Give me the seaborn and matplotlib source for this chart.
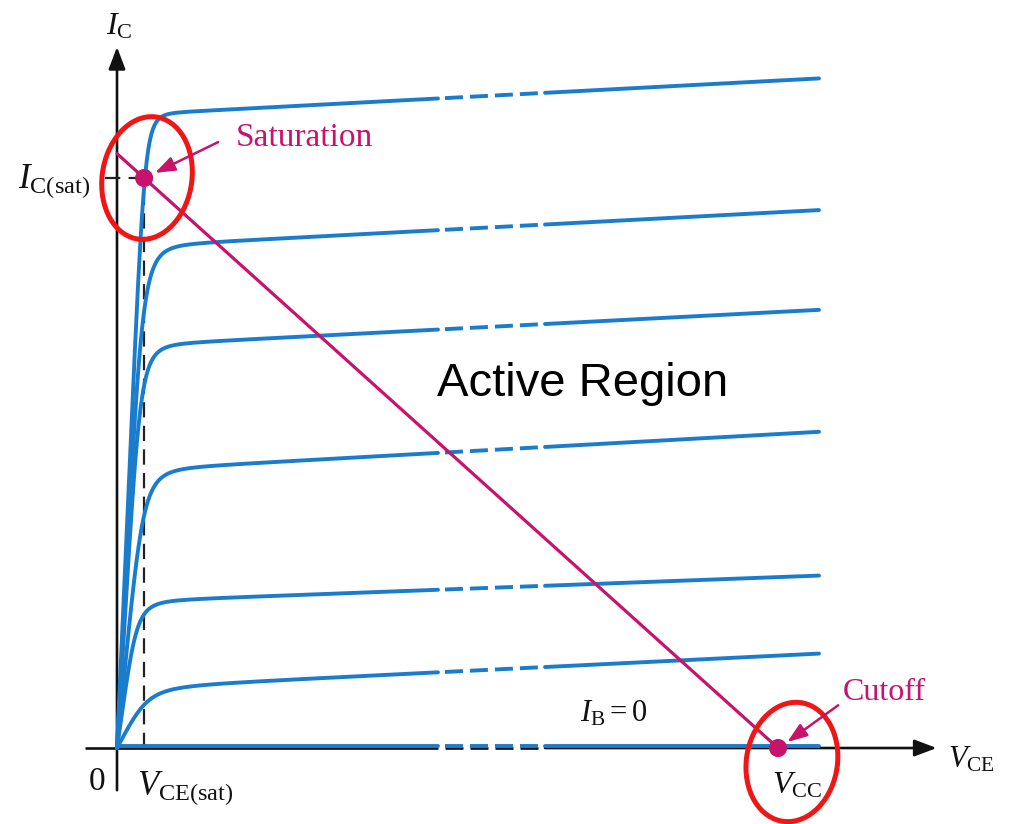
import numpy as np
import pandas as pd
import matplotlib
matplotlib.use("Agg")
import matplotlib.pyplot as plt
import seaborn as sns
from matplotlib.patches import Ellipse

sns.set_theme(style="white")
plt.rcParams.update({
    "mathtext.fontset": "custom",
    "mathtext.rm": "Liberation Serif",
    "mathtext.it": "Liberation Serif:italic",
    "mathtext.bf": "Liberation Serif:bold",
    "lines.scale_dashes": False,
    "lines.solid_capstyle": "round",
})

BLUE = "#1a7ccc"
MAGENTA = "#c8136d"
RED = "#f01616"
INK = "#111111"

# Operating point values (V, mA)
VCC = 10.0
VCE_SAT = 0.41
IC_SAT = 10.0
I_CEO = 0.04          # leakage current with IB = 0

# Output characteristics, one curve per base-current step
curve_names = ["IB6", "IB5", "IB4", "IB3", "IB2", "IB1"]
ic_at_1v = [11.16, 8.85, 7.11, 4.93, 2.61, 1.11]      # mA at VCE = 1 V
ic_at_10v5 = [11.74, 9.43, 7.68, 5.54, 3.02, 1.65]    # mA at VCE = 10.5 V
knee_v = [0.43, 0.40, 0.37, 0.42, 0.32, 0.52]         # V, end of saturation slope
knee_sharpness = [7, 4.5, 4.5, 4, 3.5, 3]
V_END = 10.62
BREAK_V = (4.856, 6.475)   # omitted stretch of the VCE axis


def collector_current(v, i1, i2, vk, n):
    plateau = i1 + (i2 - i1) * (v - 1.0) / 9.5
    ramp = (i1 / vk) * v
    return ramp * plateau / (ramp ** n + plateau ** n) ** (1.0 / n)


rows = []
v_grid = np.unique(np.concatenate([np.linspace(0, V_END, 900), BREAK_V]))
parts = [("a", v_grid <= BREAK_V[0]),
         ("gap", (v_grid >= BREAK_V[0]) & (v_grid <= BREAK_V[1])),
         ("b", v_grid >= BREAK_V[1])]
for name, i1, i2, vk, n in zip(curve_names, ic_at_1v, ic_at_10v5, knee_v, knee_sharpness):
    ic = collector_current(v_grid, i1, i2, vk, n)
    for part, mask in parts:
        for v, i in zip(v_grid[mask], ic[mask]):
            rows.append((name, part, v, i))
for part, mask in parts:
    for v in v_grid[mask]:
        rows.append(("IB0", part, v, I_CEO))
curves = pd.DataFrame(rows, columns=["curve", "part", "VCE", "IC"])
curves["seg"] = curves["curve"] + "_" + curves["part"]

fig = plt.figure(figsize=(10.15, 8.24), dpi=100)
ax = fig.add_axes([0, 0, 1, 1])
ax.set_xlim(-1.770, 13.585)
ax.set_ylim(-1.333, 13.123)
ax.axis("off")

# Axes drawn as arrows, with the broken stretch on VCE
axis_kw = dict(color=INK, lw=1.9, zorder=2)
ax.plot([-0.48, BREAK_V[0]], [0, 0], solid_capstyle="butt", **axis_kw)
ax.plot([BREAK_V[0], BREAK_V[1]], [0, 0], linestyle=(12.96, (12.96, 5.04)), **axis_kw)
arrow_kw = dict(arrowstyle="-|>,head_length=0.45,head_width=0.17", mutation_scale=30,
                lw=1.9, color=INK, shrinkA=0, shrinkB=0)
ax.annotate("", xy=(12.40, 0), xytext=(BREAK_V[1], 0), arrowprops=arrow_kw, zorder=2)
ax.annotate("", xy=(0, 12.30), xytext=(0, -0.74), arrowprops=arrow_kw, zorder=2)

# Saturation guide lines
guide_kw = dict(color="#222222", lw=1.6, linestyle=(0, (11, 6)), zorder=2)
ax.plot([VCE_SAT, VCE_SAT], [0, IC_SAT], **guide_kw)
ax.plot([-0.18, VCE_SAT], [IC_SAT, IC_SAT], **guide_kw)

# Characteristic curves
solid = curves[curves["part"] != "gap"]
broken = curves[curves["part"] == "gap"]
sns.lineplot(data=solid, x="VCE", y="IC", units="seg", estimator=None, sort=False,
             color=BLUE, lw=2.8, ax=ax, legend=False, zorder=3)
sns.lineplot(data=broken, x="VCE", y="IC", units="seg", estimator=None, sort=False,
             color=BLUE, lw=2.8, ax=ax, legend=False, zorder=3,
             linestyle=(12.96, (12.96, 5.04)), dash_capstyle="butt")

# DC load line and its end points
ic_max = IC_SAT * VCC / (VCC - VCE_SAT)
sns.lineplot(x=[0, VCC], y=[ic_max, 0], color=MAGENTA, lw=2.3, ax=ax, zorder=4)
sns.scatterplot(x=[VCE_SAT, VCC], y=[IC_SAT, 0], s=170, color=MAGENTA,
                edgecolor="none", ax=ax, zorder=5, legend=False)

# Regions circled
ax.add_patch(Ellipse((0.454, 10.0), 1.36, 2.16, angle=-6, fill=False, ec=RED, lw=3.6, zorder=6))
ax.add_patch(Ellipse((10.21, -0.245), 1.38, 2.10, angle=-6, fill=False, ec=RED, lw=3.6, zorder=6))

# Pointers
ptr_kw = dict(arrowstyle="-|>,head_length=0.6,head_width=0.22", mutation_scale=20,
              lw=1.8, color=MAGENTA, shrinkA=0, shrinkB=0)
ax.annotate("", xy=(0.575, 10.09), xytext=(1.53, 10.63), arrowprops=ptr_kw, zorder=6)
ax.annotate("", xy=(10.14, 0.105), xytext=(10.91, 0.75), arrowprops=ptr_kw, zorder=6)

serif = "Liberation Serif"
ax.text(1.80, 10.56, "Saturation", fontsize=24, family=serif, color=MAGENTA,
        ha="left", va="baseline")
ax.text(10.98, 0.84, "Cutoff", fontsize=23, family=serif, color=MAGENTA,
        ha="left", va="baseline")
ax.text(4.84, 6.18, "Active Region", fontsize=34, family="Liberation Sans", color="black",
        ha="left", va="baseline")

ax.text(0.03, 12.66, r"$I_{\rm C}$", fontsize=23, color=INK, ha="center", va="center")
ax.text(-0.41, 9.82, r"$I_{\rm C(sat)}$", fontsize=25, color=INK, ha="right", va="baseline")
ax.text(-0.30, -0.74, "0", fontsize=24, family=serif, color=INK, ha="center", va="baseline")
ax.text(0.30, -0.82, r"$V_{\rm CE(sat)}$", fontsize=25, color=INK, ha="left", va="baseline")
ax.text(9.91, -0.79, r"$V_{\rm CC}$", fontsize=23, color=INK, ha="left", va="baseline")
ax.text(12.57, -0.35, r"$V_{\rm CE}$", fontsize=22, color=INK, ha="left", va="baseline")
ax.text(7.0, 0.46, r"$I_{\rm B} = 0$", fontsize=22, color=INK, ha="left", va="baseline")

fig.savefig("out.png", dpi=100, facecolor="white")
